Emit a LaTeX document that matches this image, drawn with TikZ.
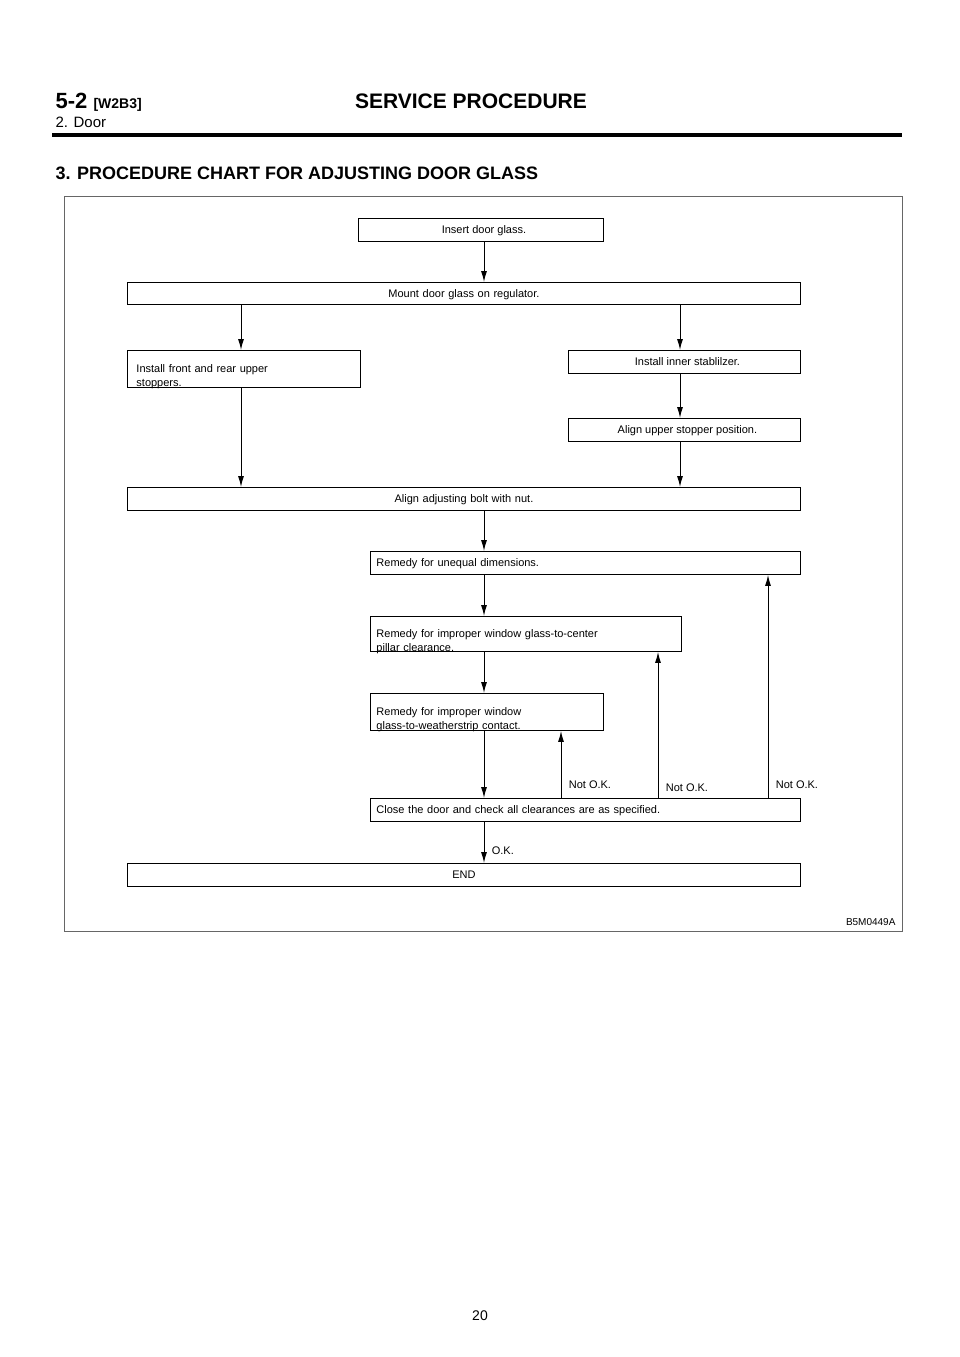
\documentclass[tikz,border=0pt]{standalone}
\usepackage{fontspec}
\setmainfont{Liberation Sans}
\usetikzlibrary{positioning,arrows.meta}

\tikzset{
  stepbox/.style={draw, line width=0.9pt, anchor=north west, inner sep=0pt,
    align=left, font=\fontsize{11}{14}\selectfont, text depth=0pt},
  flow/.style={line width=1pt, -{Latex[length=11pt,width=6pt]}}
}

\begin{document}
\begin{tikzpicture}[x=1pt,y=-1pt]

\useasboundingbox (0,0) rectangle (960,1357);

% page header
\node[anchor=base west, font=\bfseries\fontsize{22}{24}\selectfont] (sec) at (52,108) {5-2};
\node[anchor=base west, font=\bfseries\fontsize{14}{16}\selectfont] (code) at (90,108) {[W2B3]};
\node[anchor=base, font=\bfseries\fontsize{21}{24}\selectfont] (head) at (471,108) {SERVICE PROCEDURE};
\node[anchor=base west, font=\fontsize{15}{17}\selectfont] (sub) at (52,127) {2. Door};
\fill (52,133) rectangle (902,137);
\node[anchor=base west, font=\bfseries\fontsize{18}{20}\selectfont] (title) at (52,179) {3. PROCEDURE CHART FOR ADJUSTING DOOR GLASS};

\draw[line width=0.8pt, black!60] (64,196) rectangle (902,931);
\node[anchor=south east, font=\fontsize{10}{12}\selectfont] (fig) at (899,929) {B5M0449A};

% boxes
\node[stepbox, minimum width=245, minimum height=23] (insert) at (358,218)
  {\hspace*{6pt}Insert door glass.};
\node[stepbox, minimum width=673, minimum height=22, text width=673, align=center] (mount) at (127,282)
  {Mount door glass on regulator.};
\node[stepbox, minimum width=233, minimum height=37, text width=227] (front) at (127,350)
  {\hspace*{6pt}Install front and rear upper\\\hspace*{6pt}stoppers.};
\node[stepbox, minimum width=232, minimum height=23] (inner) at (568,350)
  {\hspace*{6pt}Install inner stablilzer.};
\node[stepbox, minimum width=232, minimum height=23] (upper) at (568,418)
  {\hspace*{6pt}Align upper stopper position.};
\node[stepbox, minimum width=673, minimum height=23, text width=673, align=center] (bolt) at (127,487)
  {Align adjusting bolt with nut.};
\node[stepbox, minimum width=430, minimum height=23, text width=430] (unequal) at (370,551)
  {\hspace*{6pt}Remedy for unequal dimensions.};
\node[stepbox, minimum width=311, minimum height=35, text width=311] (pillar) at (370,616)
  {\hspace*{6pt}Remedy for improper window glass-to-center\\\hspace*{6pt}pillar clearance.};
\node[stepbox, minimum width=233, minimum height=37, text width=233] (weather) at (370,693)
  {\hspace*{6pt}Remedy for improper window\\\hspace*{6pt}glass-to-weatherstrip contact.};
\node[stepbox, minimum width=430, minimum height=23, text width=430] (close) at (370,798)
  {\hspace*{6pt}Close the door and check all clearances are as specified.};
\node[stepbox, minimum width=673, minimum height=23, text width=673, align=center] (end) at (127,863)
  {END};

% arrow columns
\coordinate (xa) at (241,0);
\coordinate (xb) at (680,0);
\coordinate (xm) at (484,0);
\coordinate (n1) at (561,0);
\coordinate (n2) at (658,0);
\coordinate (n3) at (768,0);

% connectors
\draw[flow] (insert.south -| xm) -- (mount.north -| xm);
\draw[flow] (mount.south -| xa) -- (front.north -| xa);
\draw[flow] (mount.south -| xb) -- (inner.north -| xb);
\draw[flow] (inner.south -| xb) -- (upper.north -| xb);
\draw[flow] (front.south -| xa) -- (bolt.north -| xa);
\draw[flow] (upper.south -| xb) -- (bolt.north -| xb);
\draw[flow] (bolt.south -| xm) -- (unequal.north -| xm);
\draw[flow] (unequal.south -| xm) -- (pillar.north -| xm);
\draw[flow] (pillar.south -| xm) -- (weather.north -| xm);
\draw[flow] (weather.south -| xm) -- (close.north -| xm);
\draw[flow] (close.south -| xm) -- node[right=4pt, pos=0.7, font=\fontsize{11}{13}\selectfont] {O.K.} (end.north -| xm);
\draw[flow] (close.north -| n1) -- node[right=4pt, pos=0.2, font=\fontsize{11}{13}\selectfont] {Not O.K.} (weather.south -| n1);
\draw[flow] (close.north -| n2) -- node[right=4pt, pos=0.07, font=\fontsize{11}{13}\selectfont] {Not O.K.} (pillar.south -| n2);
\draw[flow] (close.north -| n3) -- node[right=4pt, pos=0.06, font=\fontsize{11}{13}\selectfont] {Not O.K.} (unequal.south -| n3);

% page number
\node[font=\fontsize{14}{16}\selectfont] (page) at (480,1316) {20};

\end{tikzpicture}
\end{document}
